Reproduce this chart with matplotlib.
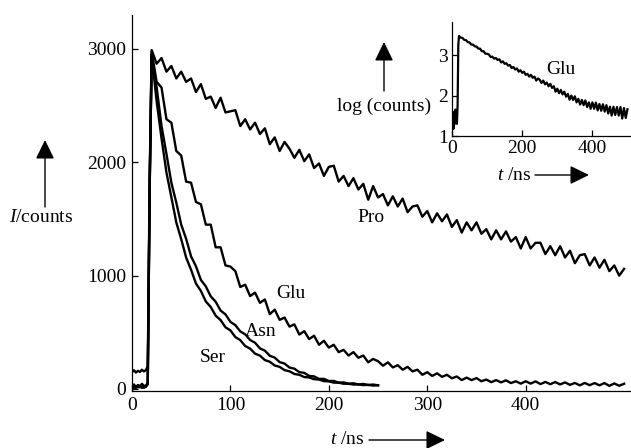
import numpy as np
import matplotlib
matplotlib.use("Agg")
import matplotlib.pyplot as plt

plt.rcParams['font.family'] = ['Liberation Serif', 'DejaVu Serif']
plt.rcParams['mathtext.fontset'] = 'custom'
plt.rcParams['mathtext.rm'] = 'Liberation Serif'
plt.rcParams['mathtext.it'] = 'Liberation Serif:italic'

# ---------------- data ----------------
# time before the peak, ns
t_pre = [0, 2, 4, 6, 8, 10, 12, 14, 16, 18]
# time grid after the peak (5 ns steps)
t_long = list(range(20, 505, 5))
t_short = list(range(20, 255, 5))

pro_pre = [150, 165, 145, 160, 150, 170, 155, 165, 200, 1900]
glu_pre = [25, 40, 15, 35, 20, 45, 30, 20, 60, 1800]
asn_pre = [20, 10, 25, 15, 30, 10, 20, 25, 50, 1800]
ser_pre = [15, 25, 10, 20, 15, 25, 10, 20, 40, 1800]

pro = [2990, 2870, 2920, 2800, 2850, 2740, 2800, 2710, 2740, 2620,
       2690, 2560, 2580, 2480, 2570, 2440, 2450, 2460, 2320, 2380,
       2290, 2350, 2250, 2300, 2160, 2220, 2100, 2180, 2120, 2040,
       2110, 2010, 2070, 1950, 1990, 1880, 1960, 1970, 1830, 1880,
       1790, 1860, 1760, 1810, 1670, 1790, 1690, 1720, 1620, 1700,
       1610, 1680, 1560, 1610, 1620, 1520, 1570, 1470, 1550, 1480,
       1540, 1430, 1490, 1380, 1470, 1400, 1470, 1370, 1410, 1320,
       1400, 1320, 1390, 1300, 1340, 1240, 1340, 1240, 1290, 1290,
       1190, 1260, 1180, 1260, 1160, 1220, 1110, 1180, 1190, 1090,
       1160, 1070, 1140, 1040, 1090, 1000, 1060]

glu = [2980, 2710, 2660, 2380, 2350, 2100, 2060, 1830, 1820, 1650,
       1630, 1450, 1450, 1250, 1250, 1090, 1080, 1040, 900, 920,
       820, 850, 760, 790, 660, 700, 610, 630, 550, 570,
       480, 510, 440, 470, 390, 425, 365, 390, 325, 345,
       295, 325, 275, 295, 235, 265, 245, 205, 235, 190,
       210, 170, 195, 155, 170, 125, 148, 115, 138, 107,
       125, 94, 110, 79, 100, 78, 96, 68, 83, 60,
       78, 58, 76, 52, 68, 47, 68, 47, 67, 43,
       62, 42, 61, 40, 58, 36, 53, 32, 53, 33,
       52, 32, 52, 27, 49, 28, 46]

asn = [2950, 2665, 2320, 2075, 1820, 1645, 1450, 1325, 1170, 1082,
       962, 905, 817, 770, 692, 658, 592, 563, 508, 482,
       432, 408, 358, 338, 293, 277, 237, 224, 189, 179,
       148, 142, 115, 111, 89, 89, 70, 71, 56, 58,
       46, 50, 40, 44, 35, 39, 32]

ser = [2950, 2540, 2212, 1910, 1692, 1470, 1322, 1160, 1052, 930,
       865, 772, 723, 647, 608, 544, 517, 458, 431, 379,
       356, 312, 294, 255, 240, 207, 195, 166, 156, 132,
       125, 105, 102, 86, 83, 69, 67, 56, 55, 46,
       46, 39, 40, 34, 36, 30, 33]

x_ticks = [0, 100, 200, 300, 400]
y_ticks = [0, 1000, 2000, 3000]
inset_x_ticks = [0, 200, 400]
inset_y_ticks = [1, 2, 3]

# ---------------- figure ----------------
W, H = 631, 448
FS = 14
fig = plt.figure(figsize=(W / 100, H / 100), dpi=100)


def fx(px):
    return px / W


def fy(py):
    return 1 - py / H


ax = fig.add_axes([fx(132), fy(391), fx(499), (391 - 15) / H])

line_kw = dict(color='black', lw=1.7)
ax.plot(t_pre + t_long, pro_pre + pro, **line_kw)
ax.plot(t_pre + t_long, glu_pre + glu, **line_kw)
ax.plot(t_pre + t_short, asn_pre + asn, **line_kw)
ax.plot(t_pre + t_short, ser_pre + ser, **line_kw)

ax.set_xlim(0, 507)
ax.set_ylim(-18, 3300)
ax.set_xticks(x_ticks)
ax.set_yticks(y_ticks)
for s in ['top', 'right']:
    ax.spines[s].set_visible(False)
for s in ['left', 'bottom']:
    ax.spines[s].set_linewidth(0.9)
ax.tick_params(direction='in', length=4, width=0.9, labelsize=FS, pad=4)

ax.text(243, 1509, 'Pro', fontsize=FS, ha='center', va='center')
ax.text(161, 838, 'Glu', fontsize=FS, ha='center', va='center')
ax.text(131, 503, 'Asn', fontsize=FS, ha='center', va='center')
ax.text(82, 282, 'Ser', fontsize=FS, ha='center', va='center')

# inset: log of the Glu decay
axi = fig.add_axes([fx(452), fy(136), fx(179), (136 - 22) / H])
axi.plot(t_pre + t_long, np.log10(glu_pre + glu), color='black', lw=1.6)
axi.set_xlim(0, 510)
axi.set_ylim(1, 3.82)
axi.set_xticks(inset_x_ticks)
axi.set_yticks(inset_y_ticks)
for s in ['top', 'right']:
    axi.spines[s].set_visible(False)
for s in ['left', 'bottom']:
    axi.spines[s].set_linewidth(0.9)
axi.tick_params(direction='in', length=4, width=0.9, labelsize=FS, pad=3)
axi.text(311, 2.65, 'Glu', fontsize=FS, ha='center', va='center')

# axis labels with arrows
arrow_kw = dict(arrowstyle='-|>,head_length=0.45,head_width=0.22',
                color='black', lw=1.0, mutation_scale=26,
                shrinkA=0, shrinkB=0)

fig.text(fx(41), fy(217), r'$I$/counts', fontsize=FS, ha='center', va='center')
ax.annotate('', xy=(fx(45), fy(140)), xytext=(fx(45), fy(207)),
            xycoords='figure fraction', textcoords='figure fraction',
            arrowprops=arrow_kw)

fig.text(fx(347), fy(439), r'$t$ /ns', fontsize=FS, ha='center', va='center')
ax.annotate('', xy=(fx(445), fy(440)), xytext=(fx(369), fy(440)),
            xycoords='figure fraction', textcoords='figure fraction',
            arrowprops=arrow_kw)

fig.text(fx(384), fy(106), 'log (counts)', fontsize=FS, ha='center', va='center')
ax.annotate('', xy=(fx(384), fy(42)), xytext=(fx(384), fy(91)),
            xycoords='figure fraction', textcoords='figure fraction',
            arrowprops=arrow_kw)

fig.text(fx(514), fy(175), r'$t$ /ns', fontsize=FS, ha='center', va='center')
ax.annotate('', xy=(fx(589), fy(175)), xytext=(fx(535), fy(175)),
            xycoords='figure fraction', textcoords='figure fraction',
            arrowprops=arrow_kw)

fig.savefig('out.png', dpi=100)
